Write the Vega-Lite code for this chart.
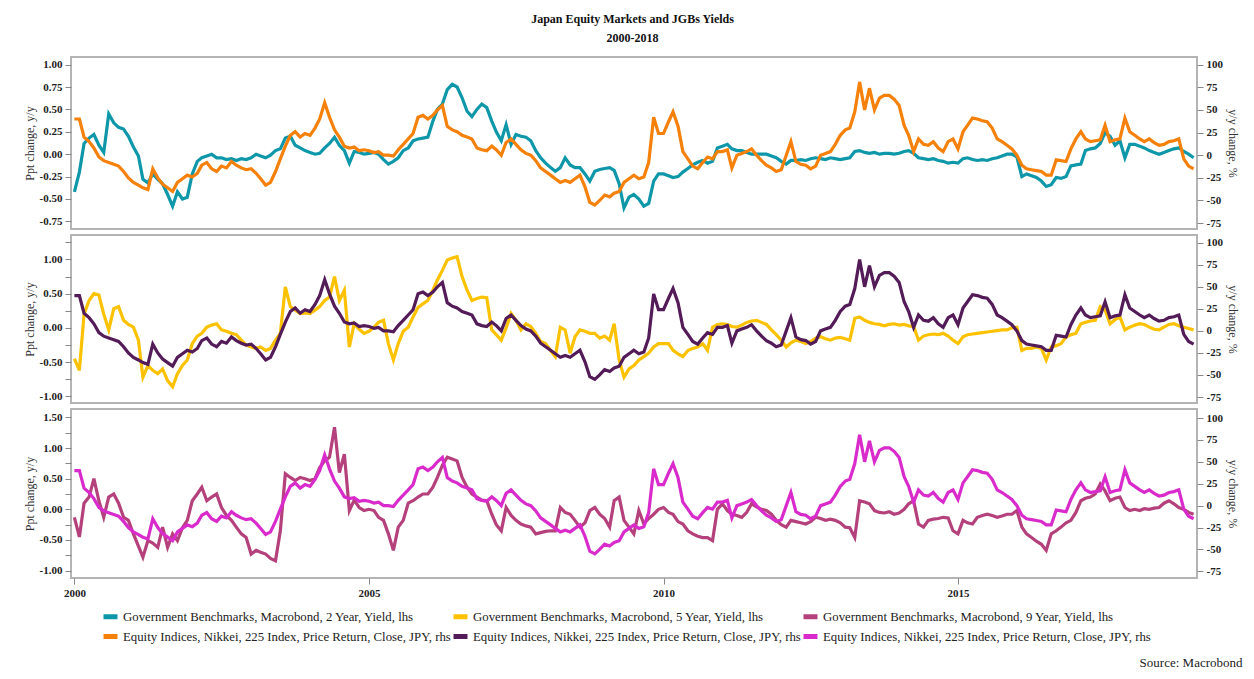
{
  "$schema": "https://vega.github.io/schema/vega-lite/v6.json",
  "background": "white",
  "padding": {"left": 22, "top": 13, "right": 8, "bottom": 5},
  "title": {"text": "Japan Equity Markets and JGBs Yields", "subtitle": "2000-2018", "anchor": "middle", "font": "Liberation Serif", "fontSize": 12, "fontWeight": "bold", "color": "#111", "subtitleFont": "Liberation Serif", "subtitleFontSize": 12, "subtitleFontWeight": "bold", "subtitleColor": "#111", "subtitlePadding": 7, "offset": 11},
  "data": {"values": [
{"date":"2000-01-01","nikkei":40,"y2":-0.42,"y5":-0.45,"y9":-0.13},
{"date":"2000-02-01","nikkei":40,"y2":-0.20,"y5":-0.62,"y9":-0.45},
{"date":"2000-03-01","nikkei":20,"y2":0.12,"y5":0.20,"y9":0.10},
{"date":"2000-04-01","nikkei":15,"y2":0.18,"y5":0.40,"y9":0.20},
{"date":"2000-05-01","nikkei":8,"y2":0.22,"y5":0.50,"y9":0.50},
{"date":"2000-06-01","nikkei":-2,"y2":0.10,"y5":0.48,"y9":0.14},
{"date":"2000-07-01","nikkei":-6,"y2":0.02,"y5":0.20,"y9":-0.13},
{"date":"2000-08-01","nikkei":-8,"y2":0.45,"y5":-0.03,"y9":0.20},
{"date":"2000-09-01","nikkei":-10,"y2":0.35,"y5":0.28,"y9":0.25},
{"date":"2000-10-01","nikkei":-12,"y2":0.30,"y5":0.31,"y9":0.10},
{"date":"2000-11-01","nikkei":-18,"y2":0.28,"y5":0.11,"y9":-0.13},
{"date":"2000-12-01","nikkei":-25,"y2":0.20,"y5":0.05,"y9":-0.18},
{"date":"2001-01-01","nikkei":-30,"y2":0.08,"y5":0.01,"y9":-0.40},
{"date":"2001-02-01","nikkei":-33,"y2":-0.02,"y5":-0.18,"y9":-0.60},
{"date":"2001-03-01","nikkei":-36,"y2":-0.28,"y5":-0.72,"y9":-0.78},
{"date":"2001-04-01","nikkei":-38,"y2":-0.32,"y5":-0.55,"y9":-0.51},
{"date":"2001-05-01","nikkei":-15,"y2":-0.22,"y5":-0.62,"y9":-0.55},
{"date":"2001-06-01","nikkei":-25,"y2":-0.28,"y5":-0.67,"y9":-0.62},
{"date":"2001-07-01","nikkei":-32,"y2":-0.33,"y5":-0.60,"y9":-0.29},
{"date":"2001-08-01","nikkei":-36,"y2":-0.45,"y5":-0.77,"y9":-0.62},
{"date":"2001-09-01","nikkei":-40,"y2":-0.58,"y5":-0.86,"y9":-0.40},
{"date":"2001-10-01","nikkei":-30,"y2":-0.42,"y5":-0.67,"y9":-0.51},
{"date":"2001-11-01","nikkei":-26,"y2":-0.50,"y5":-0.55,"y9":-0.30},
{"date":"2001-12-01","nikkei":-22,"y2":-0.48,"y5":-0.47,"y9":-0.18},
{"date":"2002-01-01","nikkei":-24,"y2":-0.22,"y5":-0.23,"y9":0.14},
{"date":"2002-02-01","nikkei":-20,"y2":-0.08,"y5":-0.12,"y9":0.25},
{"date":"2002-03-01","nikkei":-11,"y2":-0.04,"y5":-0.08,"y9":0.36},
{"date":"2002-04-01","nikkei":-8,"y2":-0.02,"y5":0.01,"y9":0.14},
{"date":"2002-05-01","nikkei":-15,"y2":0.00,"y5":0.04,"y9":0.20},
{"date":"2002-06-01","nikkei":-18,"y2":-0.04,"y5":0.06,"y9":0.25},
{"date":"2002-07-01","nikkei":-12,"y2":-0.04,"y5":-0.03,"y9":0.03},
{"date":"2002-08-01","nikkei":-14,"y2":-0.06,"y5":-0.05,"y9":-0.10},
{"date":"2002-09-01","nikkei":-7,"y2":-0.05,"y5":-0.08,"y9":-0.18},
{"date":"2002-10-01","nikkei":-11,"y2":-0.07,"y5":-0.10,"y9":-0.29},
{"date":"2002-11-01","nikkei":-14,"y2":-0.05,"y5":-0.18,"y9":-0.40},
{"date":"2002-12-01","nikkei":-16,"y2":-0.06,"y5":-0.25,"y9":-0.46},
{"date":"2003-01-01","nikkei":-15,"y2":-0.04,"y5":-0.28,"y9":-0.73},
{"date":"2003-02-01","nikkei":-20,"y2":0.00,"y5":-0.30,"y9":-0.67},
{"date":"2003-03-01","nikkei":-26,"y2":-0.02,"y5":-0.28,"y9":-0.70},
{"date":"2003-04-01","nikkei":-33,"y2":-0.04,"y5":-0.33,"y9":-0.73},
{"date":"2003-05-01","nikkei":-30,"y2":-0.01,"y5":-0.30,"y9":-0.80},
{"date":"2003-06-01","nikkei":-18,"y2":0.04,"y5":-0.18,"y9":-0.84},
{"date":"2003-07-01","nikkei":-4,"y2":0.06,"y5":-0.08,"y9":-0.35},
{"date":"2003-08-01","nikkei":10,"y2":0.18,"y5":0.60,"y9":0.58},
{"date":"2003-09-01","nikkei":22,"y2":0.20,"y5":0.31,"y9":0.52},
{"date":"2003-10-01","nikkei":26,"y2":0.10,"y5":0.26,"y9":0.47},
{"date":"2003-11-01","nikkei":20,"y2":0.07,"y5":0.21,"y9":0.52},
{"date":"2003-12-01","nikkei":24,"y2":0.04,"y5":0.22,"y9":0.50},
{"date":"2004-01-01","nikkei":22,"y2":0.02,"y5":0.21,"y9":0.47},
{"date":"2004-02-01","nikkei":30,"y2":0.00,"y5":0.26,"y9":0.50},
{"date":"2004-03-01","nikkei":40,"y2":0.01,"y5":0.31,"y9":0.68},
{"date":"2004-04-01","nikkei":58,"y2":0.07,"y5":0.40,"y9":0.79},
{"date":"2004-05-01","nikkei":42,"y2":0.12,"y5":0.45,"y9":0.85},
{"date":"2004-06-01","nikkei":28,"y2":0.19,"y5":0.75,"y9":1.34},
{"date":"2004-07-01","nikkei":20,"y2":0.10,"y5":0.40,"y9":0.60},
{"date":"2004-08-01","nikkei":10,"y2":0.04,"y5":0.55,"y9":0.90},
{"date":"2004-09-01","nikkei":8,"y2":-0.10,"y5":-0.28,"y9":-0.02},
{"date":"2004-10-01","nikkei":9,"y2":0.03,"y5":0.06,"y9":0.15},
{"date":"2004-11-01","nikkei":5,"y2":0.02,"y5":-0.02,"y9":0.03},
{"date":"2004-12-01","nikkei":6,"y2":0.00,"y5":-0.08,"y9":-0.02},
{"date":"2005-01-01","nikkei":5,"y2":0.01,"y5":-0.05,"y9":0.00},
{"date":"2005-02-01","nikkei":3,"y2":0.02,"y5":0.01,"y9":-0.02},
{"date":"2005-03-01","nikkei":4,"y2":0.00,"y5":0.08,"y9":-0.13},
{"date":"2005-04-01","nikkei":0,"y2":-0.06,"y5":0.11,"y9":-0.18},
{"date":"2005-05-01","nikkei":0,"y2":-0.11,"y5":-0.23,"y9":-0.40},
{"date":"2005-06-01","nikkei":-1,"y2":-0.08,"y5":-0.47,"y9":-0.67},
{"date":"2005-07-01","nikkei":6,"y2":-0.04,"y5":-0.23,"y9":-0.29},
{"date":"2005-08-01","nikkei":12,"y2":0.04,"y5":-0.05,"y9":-0.18},
{"date":"2005-09-01","nikkei":18,"y2":0.07,"y5":0.01,"y9":0.10},
{"date":"2005-10-01","nikkei":24,"y2":0.15,"y5":0.16,"y9":0.14},
{"date":"2005-11-01","nikkei":42,"y2":0.17,"y5":0.30,"y9":0.20},
{"date":"2005-12-01","nikkei":44,"y2":0.18,"y5":0.35,"y9":0.25},
{"date":"2006-01-01","nikkei":40,"y2":0.19,"y5":0.40,"y9":0.25},
{"date":"2006-02-01","nikkei":44,"y2":0.37,"y5":0.55,"y9":0.36},
{"date":"2006-03-01","nikkei":50,"y2":0.50,"y5":0.70,"y9":0.52},
{"date":"2006-04-01","nikkei":55,"y2":0.56,"y5":0.84,"y9":0.72},
{"date":"2006-05-01","nikkei":32,"y2":0.72,"y5":0.99,"y9":0.85},
{"date":"2006-06-01","nikkei":28,"y2":0.78,"y5":1.02,"y9":0.82},
{"date":"2006-07-01","nikkei":26,"y2":0.75,"y5":1.04,"y9":0.79},
{"date":"2006-08-01","nikkei":22,"y2":0.63,"y5":0.75,"y9":0.52},
{"date":"2006-09-01","nikkei":20,"y2":0.48,"y5":0.55,"y9":0.36},
{"date":"2006-10-01","nikkei":18,"y2":0.42,"y5":0.40,"y9":0.25},
{"date":"2006-11-01","nikkei":8,"y2":0.50,"y5":0.43,"y9":0.20},
{"date":"2006-12-01","nikkei":6,"y2":0.56,"y5":0.45,"y9":0.15},
{"date":"2007-01-01","nikkei":5,"y2":0.52,"y5":0.44,"y9":0.14},
{"date":"2007-02-01","nikkei":10,"y2":0.37,"y5":-0.03,"y9":-0.08},
{"date":"2007-03-01","nikkei":6,"y2":0.25,"y5":-0.10,"y9":-0.25},
{"date":"2007-04-01","nikkei":0,"y2":0.15,"y5":-0.18,"y9":-0.35},
{"date":"2007-05-01","nikkei":14,"y2":0.33,"y5":0.00,"y9":0.03},
{"date":"2007-06-01","nikkei":18,"y2":0.11,"y5":0.21,"y9":-0.10},
{"date":"2007-07-01","nikkei":12,"y2":0.22,"y5":0.11,"y9":-0.18},
{"date":"2007-08-01","nikkei":6,"y2":0.20,"y5":-0.03,"y9":-0.24},
{"date":"2007-09-01","nikkei":2,"y2":0.19,"y5":0.06,"y9":-0.27},
{"date":"2007-10-01","nikkei":0,"y2":0.15,"y5":0.02,"y9":-0.29},
{"date":"2007-11-01","nikkei":-6,"y2":0.04,"y5":-0.08,"y9":-0.40},
{"date":"2007-12-01","nikkei":-14,"y2":-0.04,"y5":-0.20,"y9":-0.38},
{"date":"2008-01-01","nikkei":-18,"y2":-0.10,"y5":-0.23,"y9":-0.36},
{"date":"2008-02-01","nikkei":-22,"y2":-0.15,"y5":-0.33,"y9":-0.35},
{"date":"2008-03-01","nikkei":-26,"y2":-0.19,"y5":-0.42,"y9":-0.35},
{"date":"2008-04-01","nikkei":-30,"y2":-0.15,"y5":0.01,"y9":0.03},
{"date":"2008-05-01","nikkei":-28,"y2":-0.04,"y5":-0.03,"y9":-0.05},
{"date":"2008-06-01","nikkei":-30,"y2":-0.12,"y5":-0.37,"y9":-0.08},
{"date":"2008-07-01","nikkei":-26,"y2":-0.15,"y5":-0.13,"y9":-0.18},
{"date":"2008-08-01","nikkei":-22,"y2":-0.15,"y5":-0.03,"y9":-0.29},
{"date":"2008-09-01","nikkei":-35,"y2":-0.22,"y5":-0.05,"y9":-0.22},
{"date":"2008-10-01","nikkei":-52,"y2":-0.30,"y5":-0.08,"y9":-0.02},
{"date":"2008-11-01","nikkei":-55,"y2":-0.19,"y5":-0.08,"y9":0.03},
{"date":"2008-12-01","nikkei":-50,"y2":-0.17,"y5":-0.15,"y9":-0.08},
{"date":"2009-01-01","nikkei":-44,"y2":-0.16,"y5":-0.12,"y9":-0.15},
{"date":"2009-02-01","nikkei":-46,"y2":-0.15,"y5":-0.18,"y9":-0.29},
{"date":"2009-03-01","nikkei":-42,"y2":-0.18,"y5":0.06,"y9":0.14},
{"date":"2009-04-01","nikkei":-40,"y2":-0.33,"y5":-0.47,"y9":0.20},
{"date":"2009-05-01","nikkei":-30,"y2":-0.60,"y5":-0.72,"y9":-0.18},
{"date":"2009-06-01","nikkei":-26,"y2":-0.48,"y5":-0.60,"y9":-0.29},
{"date":"2009-07-01","nikkei":-22,"y2":-0.45,"y5":-0.55,"y9":-0.40},
{"date":"2009-08-01","nikkei":-26,"y2":-0.50,"y5":-0.47,"y9":-0.02},
{"date":"2009-09-01","nikkei":-24,"y2":-0.58,"y5":-0.42,"y9":-0.24},
{"date":"2009-10-01","nikkei":-8,"y2":-0.55,"y5":-0.37,"y9":-0.15},
{"date":"2009-11-01","nikkei":42,"y2":-0.30,"y5":-0.28,"y9":-0.08},
{"date":"2009-12-01","nikkei":24,"y2":-0.22,"y5":-0.23,"y9":0.00},
{"date":"2010-01-01","nikkei":24,"y2":-0.22,"y5":-0.23,"y9":0.03},
{"date":"2010-02-01","nikkei":37,"y2":-0.24,"y5":-0.23,"y9":-0.05},
{"date":"2010-03-01","nikkei":48,"y2":-0.26,"y5":-0.33,"y9":-0.08},
{"date":"2010-04-01","nikkei":32,"y2":-0.25,"y5":-0.38,"y9":-0.20},
{"date":"2010-05-01","nikkei":4,"y2":-0.20,"y5":-0.42,"y9":-0.24},
{"date":"2010-06-01","nikkei":-4,"y2":-0.16,"y5":-0.33,"y9":-0.35},
{"date":"2010-07-01","nikkei":-12,"y2":-0.12,"y5":-0.30,"y9":-0.40},
{"date":"2010-08-01","nikkei":-15,"y2":-0.09,"y5":-0.28,"y9":-0.44},
{"date":"2010-09-01","nikkei":-8,"y2":-0.07,"y5":-0.23,"y9":-0.46},
{"date":"2010-10-01","nikkei":-2,"y2":-0.10,"y5":-0.33,"y9":-0.46},
{"date":"2010-11-01","nikkei":-4,"y2":-0.08,"y5":0.01,"y9":-0.51},
{"date":"2010-12-01","nikkei":4,"y2":0.07,"y5":0.05,"y9":0.00},
{"date":"2011-01-01","nikkei":4,"y2":0.09,"y5":0.06,"y9":0.09},
{"date":"2011-02-01","nikkei":6,"y2":0.11,"y5":0.05,"y9":-0.02},
{"date":"2011-03-01","nikkei":-14,"y2":0.06,"y5":0.02,"y9":-0.08},
{"date":"2011-04-01","nikkei":0,"y2":0.04,"y5":0.01,"y9":-0.10},
{"date":"2011-05-01","nikkei":2,"y2":0.04,"y5":0.04,"y9":-0.13},
{"date":"2011-06-01","nikkei":4,"y2":0.02,"y5":0.08,"y9":-0.05},
{"date":"2011-07-01","nikkei":7,"y2":0.00,"y5":0.10,"y9":0.09},
{"date":"2011-08-01","nikkei":0,"y2":0.00,"y5":0.11,"y9":0.04},
{"date":"2011-09-01","nikkei":-6,"y2":0.00,"y5":0.08,"y9":0.00},
{"date":"2011-10-01","nikkei":-11,"y2":0.00,"y5":0.05,"y9":-0.02},
{"date":"2011-11-01","nikkei":-14,"y2":-0.02,"y5":-0.03,"y9":-0.08},
{"date":"2011-12-01","nikkei":-18,"y2":-0.04,"y5":-0.10,"y9":-0.18},
{"date":"2012-01-01","nikkei":-16,"y2":-0.08,"y5":-0.18,"y9":-0.25},
{"date":"2012-02-01","nikkei":0,"y2":-0.11,"y5":-0.28,"y9":-0.29},
{"date":"2012-03-01","nikkei":15,"y2":-0.07,"y5":-0.22,"y9":-0.18},
{"date":"2012-04-01","nikkei":-7,"y2":-0.07,"y5":-0.18,"y9":-0.20},
{"date":"2012-05-01","nikkei":-10,"y2":-0.06,"y5":-0.20,"y9":-0.22},
{"date":"2012-06-01","nikkei":-11,"y2":-0.07,"y5":-0.23,"y9":-0.24},
{"date":"2012-07-01","nikkei":-15,"y2":-0.05,"y5":-0.20,"y9":-0.20},
{"date":"2012-08-01","nikkei":-12,"y2":-0.04,"y5":-0.15,"y9":-0.13},
{"date":"2012-09-01","nikkei":0,"y2":-0.05,"y5":-0.13,"y9":-0.15},
{"date":"2012-10-01","nikkei":2,"y2":-0.06,"y5":-0.16,"y9":-0.18},
{"date":"2012-11-01","nikkei":4,"y2":-0.04,"y5":-0.18,"y9":-0.16},
{"date":"2012-12-01","nikkei":12,"y2":-0.05,"y5":-0.15,"y9":-0.18},
{"date":"2013-01-01","nikkei":22,"y2":-0.06,"y5":-0.14,"y9":-0.22},
{"date":"2013-02-01","nikkei":28,"y2":-0.05,"y5":-0.16,"y9":-0.29},
{"date":"2013-03-01","nikkei":30,"y2":-0.04,"y5":-0.18,"y9":-0.30},
{"date":"2013-04-01","nikkei":48,"y2":0.03,"y5":0.14,"y9":-0.46},
{"date":"2013-05-01","nikkei":81,"y2":0.04,"y5":0.16,"y9":0.14},
{"date":"2013-06-01","nikkei":50,"y2":0.02,"y5":0.11,"y9":0.12},
{"date":"2013-07-01","nikkei":74,"y2":0.01,"y5":0.08,"y9":0.09},
{"date":"2013-08-01","nikkei":50,"y2":0.02,"y5":0.06,"y9":-0.02},
{"date":"2013-09-01","nikkei":63,"y2":0.00,"y5":0.05,"y9":-0.05},
{"date":"2013-10-01","nikkei":66,"y2":0.01,"y5":0.03,"y9":-0.06},
{"date":"2013-11-01","nikkei":66,"y2":0.01,"y5":0.05,"y9":-0.04},
{"date":"2013-12-01","nikkei":62,"y2":0.00,"y5":0.06,"y9":-0.08},
{"date":"2014-01-01","nikkei":55,"y2":0.01,"y5":0.04,"y9":-0.06},
{"date":"2014-02-01","nikkei":33,"y2":0.03,"y5":0.05,"y9":0.00},
{"date":"2014-03-01","nikkei":22,"y2":0.04,"y5":0.03,"y9":0.09},
{"date":"2014-04-01","nikkei":4,"y2":0.01,"y5":0.02,"y9":0.14},
{"date":"2014-05-01","nikkei":18,"y2":-0.04,"y5":-0.18,"y9":-0.24},
{"date":"2014-06-01","nikkei":12,"y2":-0.05,"y5":-0.12,"y9":-0.29},
{"date":"2014-07-01","nikkei":11,"y2":-0.06,"y5":-0.10,"y9":-0.18},
{"date":"2014-08-01","nikkei":15,"y2":-0.05,"y5":-0.09,"y9":-0.16},
{"date":"2014-09-01","nikkei":8,"y2":-0.07,"y5":-0.10,"y9":-0.15},
{"date":"2014-10-01","nikkei":4,"y2":-0.08,"y5":-0.08,"y9":-0.13},
{"date":"2014-11-01","nikkei":15,"y2":-0.10,"y5":-0.12,"y9":-0.14},
{"date":"2014-12-01","nikkei":18,"y2":-0.09,"y5":-0.18,"y9":-0.35},
{"date":"2015-01-01","nikkei":7,"y2":-0.10,"y5":-0.23,"y9":-0.40},
{"date":"2015-02-01","nikkei":26,"y2":-0.05,"y5":-0.13,"y9":-0.18},
{"date":"2015-03-01","nikkei":33,"y2":-0.04,"y5":-0.10,"y9":-0.22},
{"date":"2015-04-01","nikkei":41,"y2":-0.06,"y5":-0.09,"y9":-0.24},
{"date":"2015-05-01","nikkei":40,"y2":-0.07,"y5":-0.08,"y9":-0.13},
{"date":"2015-06-01","nikkei":38,"y2":-0.06,"y5":-0.07,"y9":-0.10},
{"date":"2015-07-01","nikkei":37,"y2":-0.07,"y5":-0.06,"y9":-0.08},
{"date":"2015-08-01","nikkei":30,"y2":-0.05,"y5":-0.05,"y9":-0.10},
{"date":"2015-09-01","nikkei":18,"y2":-0.04,"y5":-0.04,"y9":-0.13},
{"date":"2015-10-01","nikkei":15,"y2":-0.02,"y5":-0.03,"y9":-0.11},
{"date":"2015-11-01","nikkei":11,"y2":0.00,"y5":-0.03,"y9":-0.08},
{"date":"2015-12-01","nikkei":7,"y2":0.00,"y5":0.00,"y9":-0.08},
{"date":"2016-01-01","nikkei":0,"y2":-0.03,"y5":0.01,"y9":-0.02},
{"date":"2016-02-01","nikkei":-11,"y2":-0.25,"y5":-0.33,"y9":-0.29},
{"date":"2016-03-01","nikkei":-15,"y2":-0.22,"y5":-0.30,"y9":-0.40},
{"date":"2016-04-01","nikkei":-16,"y2":-0.24,"y5":-0.30,"y9":-0.46},
{"date":"2016-05-01","nikkei":-17,"y2":-0.26,"y5":-0.28,"y9":-0.52},
{"date":"2016-06-01","nikkei":-18,"y2":-0.30,"y5":-0.30,"y9":-0.57},
{"date":"2016-07-01","nikkei":-22,"y2":-0.36,"y5":-0.47,"y9":-0.67},
{"date":"2016-08-01","nikkei":-22,"y2":-0.34,"y5":-0.28,"y9":-0.40},
{"date":"2016-09-01","nikkei":-5,"y2":-0.26,"y5":-0.26,"y9":-0.35},
{"date":"2016-10-01","nikkei":-6,"y2":-0.27,"y5":-0.23,"y9":-0.29},
{"date":"2016-11-01","nikkei":-7,"y2":-0.25,"y5":-0.13,"y9":-0.22},
{"date":"2016-12-01","nikkei":7,"y2":-0.13,"y5":-0.10,"y9":-0.18},
{"date":"2017-01-01","nikkei":18,"y2":-0.12,"y5":-0.08,"y9":-0.05},
{"date":"2017-02-01","nikkei":26,"y2":-0.11,"y5":0.06,"y9":0.14},
{"date":"2017-03-01","nikkei":18,"y2":0.04,"y5":0.08,"y9":0.18},
{"date":"2017-04-01","nikkei":15,"y2":0.06,"y5":0.10,"y9":0.20},
{"date":"2017-05-01","nikkei":16,"y2":0.07,"y5":0.11,"y9":0.25},
{"date":"2017-06-01","nikkei":17,"y2":0.12,"y5":0.31,"y9":0.41},
{"date":"2017-07-01","nikkei":33,"y2":0.24,"y5":0.26,"y9":0.30},
{"date":"2017-08-01","nikkei":15,"y2":0.20,"y5":0.06,"y9":0.14},
{"date":"2017-09-01","nikkei":17,"y2":0.10,"y5":0.12,"y9":0.18},
{"date":"2017-10-01","nikkei":18,"y2":0.15,"y5":0.16,"y9":0.20},
{"date":"2017-11-01","nikkei":41,"y2":-0.04,"y5":-0.03,"y9":0.03},
{"date":"2017-12-01","nikkei":26,"y2":0.11,"y5":0.01,"y9":-0.02},
{"date":"2018-01-01","nikkei":22,"y2":0.11,"y5":0.04,"y9":0.00},
{"date":"2018-02-01","nikkei":18,"y2":0.09,"y5":0.06,"y9":-0.02},
{"date":"2018-03-01","nikkei":15,"y2":0.07,"y5":0.05,"y9":0.01},
{"date":"2018-04-01","nikkei":18,"y2":0.04,"y5":0.01,"y9":0.00},
{"date":"2018-05-01","nikkei":14,"y2":0.02,"y5":-0.02,"y9":0.02},
{"date":"2018-06-01","nikkei":11,"y2":0.00,"y5":-0.03,"y9":0.03},
{"date":"2018-07-01","nikkei":12,"y2":0.02,"y5":0.01,"y9":0.10},
{"date":"2018-08-01","nikkei":15,"y2":0.04,"y5":0.05,"y9":0.14},
{"date":"2018-09-01","nikkei":16,"y2":0.06,"y5":0.06,"y9":0.09},
{"date":"2018-10-01","nikkei":18,"y2":0.07,"y5":0.03,"y9":0.03},
{"date":"2018-11-01","nikkei":-4,"y2":0.03,"y5":0.01,"y9":0.00},
{"date":"2018-12-01","nikkei":-12,"y2":0.00,"y5":-0.01,"y9":-0.05},
{"date":"2019-01-01","nikkei":-15,"y2":-0.04,"y5":-0.03,"y9":-0.08}
  ]},
  "spacing": 4,
  "resolve": {"scale": {"color": "shared"}, "legend": {"color": "shared"}},
  "vconcat": [
    {
      "width": 1126, "height": 172,
      "resolve": {"scale": {"y": "independent"}},
      "layer": [
        {"mark": {"type": "line", "strokeWidth": 3.2},
         "encoding": {
           "x": {"field": "date", "type": "temporal", "scale": {"type": "utc", "domain": ["1999-12-11", "2019-01-22"]}, "axis": null},
           "y": {"field": "y2", "type": "quantitative", "scale": {"domain": [-0.835, 1.085], "nice": false, "zero": false},
                 "axis": {"orient": "left", "title": "Ppt change, y/y", "values": [-0.75, -0.5, -0.25, 0, 0.25, 0.5, 0.75, 1], "labelExpr": "replace(format(datum.value, '.2f'), '\u2212', '-')"}},
           "color": {"datum": "Government Benchmarks, Macrobond, 2 Year, Yield, lhs", "type": "nominal",
             "scale": {"domain": ["Government Benchmarks, Macrobond, 2 Year, Yield, lhs", "Government Benchmarks, Macrobond, 5 Year, Yield, lhs", "Government Benchmarks, Macrobond, 9 Year, Yield, lhs", "Equity Indices, Nikkei, 225 Index, Price Return, Close, JPY, rhs", "Equity Indices, Nikkei, 225 Index, Price Return, Close, JPY, rhs ", "Equity Indices, Nikkei, 225 Index, Price Return, Close, JPY, rhs  "],
                       "range": ["#0e97a8", "#fcc200", "#b5417c", "#f5800a", "#531b57", "#d92bcc"]},
             "legend": {"orient": "none", "legendX": 30, "legendY": 550, "direction": "horizontal", "columns": 3, "title": null}}
         }},
        {"mark": {"type": "line", "strokeWidth": 3.2},
         "encoding": {
           "x": {"field": "date", "type": "temporal", "scale": {"type": "utc", "domain": ["1999-12-11", "2019-01-22"]}, "axis": null},
           "y": {"field": "nikkei", "type": "quantitative", "scale": {"domain": [-81.5, 108.5], "nice": false, "zero": false},
                 "axis": {"orient": "right", "title": "y/y change, %", "values": [-75, -50, -25, 0, 25, 50, 75, 100], "labelExpr": "replace(format(datum.value, 'd'), '\u2212', '-')"}},
           "color": {"datum": "Equity Indices, Nikkei, 225 Index, Price Return, Close, JPY, rhs", "type": "nominal"}
         }}
      ]
    },
    {
      "width": 1126, "height": 168,
      "resolve": {"scale": {"y": "independent"}},
      "layer": [
        {"mark": {"type": "line", "strokeWidth": 3.2},
         "encoding": {
           "x": {"field": "date", "type": "temporal", "scale": {"type": "utc", "domain": ["1999-12-11", "2019-01-22"]}, "axis": null},
           "y": {"field": "y5", "type": "quantitative", "scale": {"domain": [-1.098, 1.357], "nice": false, "zero": false},
                 "axis": {"orient": "left", "title": "Ppt change, y/y", "values": [-1, -0.75, -0.5, -0.25, 0, 0.25, 0.5, 0.75, 1, 1.25], "labelExpr": "abs(datum.value*2 - round(datum.value*2)) < 0.001 ? replace(format(datum.value, '.2f'), '\u2212', '-') : ''"}},
           "color": {"datum": "Government Benchmarks, Macrobond, 5 Year, Yield, lhs", "type": "nominal"}
         }},
        {"mark": {"type": "line", "strokeWidth": 3.2},
         "encoding": {
           "x": {"field": "date", "type": "temporal", "scale": {"type": "utc", "domain": ["1999-12-11", "2019-01-22"]}, "axis": null},
           "y": {"field": "nikkei", "type": "quantitative", "scale": {"domain": [-81.8, 108.75], "nice": false, "zero": false},
                 "axis": {"orient": "right", "title": "y/y change, %", "values": [-75, -50, -25, 0, 25, 50, 75, 100], "labelExpr": "replace(format(datum.value, 'd'), '\u2212', '-')"}},
           "color": {"datum": "Equity Indices, Nikkei, 225 Index, Price Return, Close, JPY, rhs ", "type": "nominal"}
         }}
      ]
    },
    {
      "width": 1126, "height": 169,
      "resolve": {"scale": {"y": "independent"}},
      "layer": [
        {"mark": {"type": "line", "strokeWidth": 3.2},
         "encoding": {
           "x": {"field": "date", "type": "temporal", "scale": {"type": "utc", "domain": ["1999-12-11", "2019-01-22"]},
                 "axis": {"values": [{"year": 2000, "utc": true}, {"year": 2005, "utc": true}, {"year": 2010, "utc": true}, {"year": 2015, "utc": true}], "format": "%Y", "title": "Source: Macrobond", "titleAnchor": "end", "titleAlign": "right", "titleX": 1171, "titleY": 88, "titleBaseline": "alphabetic", "titleFontWeight": "normal", "titleFontSize": 13, "titleColor": "#222"}},
           "y": {"field": "y9", "type": "quantitative", "scale": {"domain": [-1.12, 1.636], "nice": false, "zero": false},
                 "axis": {"orient": "left", "title": "Ppt change, y/y", "values": [-1, -0.75, -0.5, -0.25, 0, 0.25, 0.5, 0.75, 1, 1.25, 1.5], "labelExpr": "abs(datum.value*2 - round(datum.value*2)) < 0.001 ? replace(format(datum.value, '.2f'), '\u2212', '-') : ''"}},
           "color": {"datum": "Government Benchmarks, Macrobond, 9 Year, Yield, lhs", "type": "nominal"}
         }},
        {"mark": {"type": "line", "strokeWidth": 3.2},
         "encoding": {
           "x": {"field": "date", "type": "temporal", "scale": {"type": "utc", "domain": ["1999-12-11", "2019-01-22"]}},
           "y": {"field": "nikkei", "type": "quantitative", "scale": {"domain": [-82.6, 110.3], "nice": false, "zero": false},
                 "axis": {"orient": "right", "title": "y/y change, %", "values": [-75, -50, -25, 0, 25, 50, 75, 100], "labelExpr": "replace(format(datum.value, 'd'), '\u2212', '-')"}},
           "color": {"datum": "Equity Indices, Nikkei, 225 Index, Price Return, Close, JPY, rhs  ", "type": "nominal"}
         }}
      ]
    }
  ],
  "config": {
    "font": "Liberation Serif",
    "view": {"stroke": "#b4b4b4", "strokeWidth": 2},
    "axis": {"labelFont": "Liberation Serif", "labelFontWeight": "bold", "labelFontSize": 11, "labelColor": "#222", "tickColor": "#888", "tickSize": 6, "labelPadding": 3, "domain": false, "grid": false, "titleFont": "Liberation Serif", "titleFontWeight": "normal", "titleFontSize": 12, "titleColor": "#333", "titlePadding": 3},
    "legend": {"symbolType": "stroke", "symbolStrokeWidth": 5, "symbolSize": 196, "labelFont": "Liberation Serif", "labelFontSize": 12.8, "labelColor": "#222", "labelLimit": 500, "columnPadding": -10, "rowPadding": -1, "labelOffset": 3},
    "locale": {"number": {"decimal": ".", "thousands": ",", "grouping": [3], "currency": ["$", ""], "minus": "-"}}
  }
}
